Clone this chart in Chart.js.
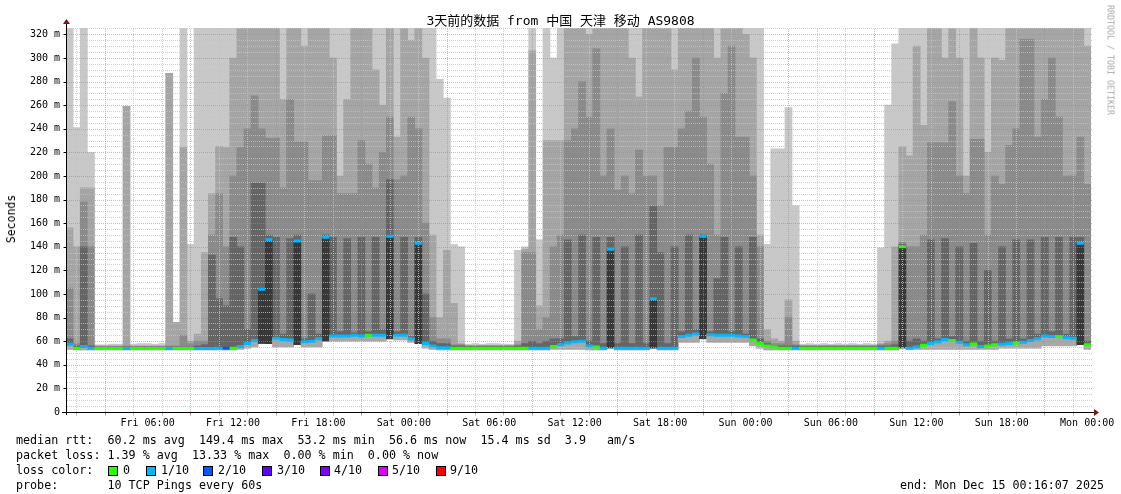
<!DOCTYPE html>
<html><head><meta charset="utf-8">
<script src="https://cdn.jsdelivr.net/npm/chart.js@4.4.1/dist/chart.umd.min.js"></script>
<style>
html,body{margin:0;padding:0;background:#fff;}
#wrap{position:relative;width:1121px;height:494px;overflow:hidden;background:#fff;}
#c{position:absolute;left:0;top:0;}
.t{position:absolute;font-family:"DejaVu Sans Mono",monospace;color:#000;white-space:pre;}
.leg{font-size:11.7px;line-height:15px;left:16px;}
.box{position:absolute;width:8px;height:8px;border:1px solid #000;}
</style></head><body>
<div id="wrap">
<canvas id="c" width="1121" height="494"></canvas>
<div class="t" id="title" style="left:0;width:1121px;text-align:center;top:13px;font-size:13px;line-height:16px;font-family:'DejaVu Sans Mono','Noto Sans CJK SC',monospace;">3天前的数据 from 中国 天津 移动 AS9808</div>
<div class="t" id="ylab" style="left:11px;top:219px;font-size:11.5px;line-height:12px;transform:translate(-50%,-50%) rotate(-90deg);">Seconds</div>
<div class="t" id="credit" style="left:1110px;top:60px;font-size:8.3px;line-height:9px;color:#a8a8a8;transform:translate(-50%,-50%) rotate(90deg);">RRDTOOL / TOBI OETIKER</div>
<div class="t leg" style="top:433px;">median rtt:  60.2 ms avg  149.4 ms max  53.2 ms min  56.6 ms now  15.4 ms sd  3.9   am/s</div>
<div class="t leg" style="top:448px;">packet loss: 1.39 % avg  13.33 % max  0.00 % min  0.00 % now</div>
<div class="t leg" style="top:463px;">loss color:</div>
<div class="t leg" style="top:478px;">probe:       10 TCP Pings every 60s</div>
<div class="t leg" style="top:478px;left:auto;right:17px;">end: Mon Dec 15 00:16:07 2025</div>
<div id="lossLegend"></div>
</div>
<script>
// ---------------- data (30-minute columns, Fri 00:16 -> Mon 00:16) ----------------
const medianRtt = [
 57.5,54,55.5,54,53.8,53.8,53.8,53.8,53.8,53.8,53.8,53.8,
 53.8,53.8,53.8,53.8,53.8,53.8,53.8,53.8,53.8,54,54,54,
 55.5,58,60.5,104,146,62.4,61.5,61,145,59.5,60,62,
 148,64.5,64.5,64.5,65,64.5,65,65,65,149,65,65,
 62,143,58,56,54.5,54.5,54,54,54,54,54,54,
 54,54,54,54,54,54,54,54,55.5,57,58.5,59.5,
 60,56,55,54,138,54,54,54,54,54,96,54,
 54,54,64,65,66,149,65.5,65,65,65,64.5,64,
 61,58,56,55,54,54,54,54,54,54,54,54,
 54,54,54,54,54,54,54,54,54,140,54,55,
 56.5,58,59.5,61.5,60.5,59,57,57.6,55.5,56,57,57.5,
 58,58.5,59,60.5,62,64.4,64,64,63,62.4,143,57
];
// loss per column: index into lossColors (0 = 0/10, 1 = 1/10, 2 = 2/10)
const lossIndex = [
 1,0,1,1,0,0,0,0,1,0,0,0,
 0,0,1,0,0,0,1,1,1,1,2,0,
 1,1,1,1,1,1,1,1,1,1,1,1,
 1,1,1,1,1,1,0,1,1,1,1,1,
 1,1,1,1,1,1,0,0,0,0,0,0,
 0,0,0,0,0,1,1,1,0,1,1,1,
 1,1,0,1,1,1,1,1,1,1,1,1,
 1,1,1,1,1,1,1,1,1,1,1,1,
 0,0,0,0,0,0,1,0,0,0,0,0,
 0,0,0,0,0,0,1,0,0,0,1,1,
 0,1,1,1,0,1,1,0,1,0,0,1,
 1,0,1,1,1,1,1,0,1,1,1,0
];
// lowest ping per column
const smokeLow = [
 53,52.5,52.5,52.5,52.5,52.5,52.5,52.5,52.5,52.5,52.5,52.5,
 52.5,52.5,52.5,52.5,52.5,52.5,52.5,52.5,52.5,52.5,52.5,52.5,
 53,54,55,58,58,55,55,55,57,55,55,55,
 60,60,60,60,60,60,60,60,60,62,61,61,
 59,58,54,53,52.5,52.5,52.5,52.5,52.5,52.5,52.5,52.5,
 52.5,52.5,52.5,52.5,52.5,52.5,52.5,52.5,53,53,53,53,
 53,52.5,52.5,52.5,54,52.5,52.5,52.5,52.5,52.5,54,52.5,
 52.5,52.5,59,59,59,62,59,59,59,59,59,59,
 56,54,52.5,52.5,52.5,52.5,52.5,52.5,52.5,52.5,52.5,52.5,
 52.5,52.5,52.5,52.5,52.5,52.5,52.5,52.5,52.5,54,53,53,
 53,53,53,53,53,53,53,53,53,53,53,54,
 54,54,54,54,54,56,56,56,56,56,57,53
];
// upper smoke levels (inner -> outer)
const smoke1 = [
 62,56,140,56,55,55,55,55,55,55,55,55,
 55,55,55,55,55,55,56,57,133,96,90,148,
 140,70,194,194,150,148,66,147,150,62,100,66,
 150,148,68,147,67,148,68,148,70,197,68,148,
 64,148,100,60,58,58,56,56,55.5,55.5,55.5,55.5,
 55.5,55.5,55.5,56,58,60,58,60,62,62,146,64,
 150,60,148,58,148,58,140,58,150,58,174,135,
 58,140,68,150,70,150,68,113,148,68,140,66,
 148,62,58,56,56,56,56,55.5,55.5,55.5,55.5,55.5,
 55.5,55.5,55.5,55.5,55.5,55.5,56,56,57,142,60,62,
 60,146,62,147,64,140,60,143,60,120,60,140,
 62,146,62,146,66,148,68,148,66,148,148,60
];
const smoke2 = [
 105,58,178,140,55.5,55.5,55.5,55.5,56,55.5,55.5,55.5,
 55.5,55.5,56,56,65,58,60,60,150,185,140,200,
 224,240,268,240,232,232,190,265,229,229,196,196,
 234,234,185,185,185,230,210,190,220,250,197,200,
 250,240,160,80,62,62,57,57,56,56,56,56,
 56,56,56,57,135,135,70,80,140,150,230,240,
 280,250,308,200,240,188,200,185,222,200,200,175,
 224,224,240,255,300,250,210,150,270,310,233,233,
 200,140,60,58,58,80,57,56,56,56,56,56,
 56,56,56,56,56,56,57,58,60,144,140,140,
 150,228,228,228,263,200,185,231,231,150,200,193,
 226,240,316,316,233,265,300,250,200,200,233,193
];
const smoke3 = [
 156,140,190,190,56,56,56,56,259,56,56,56,
 56,56,287,76,224,60,66,135,185,225,224,300,
 330,330,330,330,330,330,265,330,330,310,330,330,
 330,300,200,265,330,330,330,290,260,330,233,330,
 315,330,300,150,80,137,92,58,56.5,56.5,56.5,56.5,
 56.5,56.5,56.5,60,138,306,90,230,230,230,330,330,
 330,320,330,330,330,330,330,300,267,330,330,330,
 330,290,330,330,330,330,330,300,330,330,330,320,
 300,150,70,62,60,95,60,56.5,56.5,56.5,56.5,56.5,
 56.5,56.5,56.5,56.5,56.5,56.5,58,60,140,225,217,310,
 243,330,330,300,330,300,200,330,300,220,300,298,
 330,330,330,330,330,330,330,330,330,330,330,310
];
const smoke4 = [
 330,241,330,220,57,57,57.5,57.5,259,57.5,58,58,
 57.5,58,287,76,330,142,330,330,330,330,330,330,
 330,330,330,330,330,330,330,330,330,330,330,330,
 330,330,330,330,330,330,330,330,330,330,330,330,
 330,330,330,330,282,266,142,140,57.5,58,57.5,58,
 58,57.5,57.5,137,140,330,146,330,300,330,330,330,
 330,330,330,330,330,330,330,330,330,330,330,330,
 330,330,330,330,330,330,330,330,330,330,330,330,
 330,330,142,223,223,258,175,57.5,58,57.5,58,57.5,
 58,57.5,58,57.5,58,57.5,139,260,312,330,330,330,
 330,330,330,330,330,330,330,330,330,330,330,330,
 330,330,330,330,330,330,330,330,330,330,330,330
];
const lossColors = ['#26ff00','#00b8ff','#0059ff','#5e00ff','#7e00ff','#dd00ff','#ff0000'];
const lossLabels = ['0','1/10','2/10','3/10','4/10','5/10','9/10'];
const xTickHours = [6,12,18,24,30,36,42,48,54,60,66,72];
const xTickLabels = ['Fri 06:00','Fri 12:00','Fri 18:00','Sat 00:00','Sat 06:00','Sat 12:00','Sat 18:00','Sun 00:00','Sun 06:00','Sun 12:00','Sun 18:00','Mon 00:00'];
const yTickValues = [0,20,40,60,80,100,120,140,160,180,200,220,240,260,280,300,320];
const yTickLabels = ['0','20 m','40 m','60 m','80 m','100 m','120 m','140 m','160 m','180 m','200 m','220 m','240 m','260 m','280 m','300 m','320 m'];
const startHour = 0.2686, endHour = 72.2686, yMax = 325.4;

// ---------------- legend boxes (HTML) ----------------
const boxLeft = [108,146,203,262,320,378,436];
const labLeft = [123,161,218,277,334,392,450];
const lg = document.getElementById('lossLegend');
lossColors.forEach((c,i)=>{
  const b=document.createElement('div'); b.className='box';
  b.style.left=boxLeft[i]+'px'; b.style.top='466px'; b.style.background=c; lg.appendChild(b);
  const t=document.createElement('div'); t.className='t leg';
  t.style.left=labLeft[i]+'px'; t.style.top='463px'; t.textContent=lossLabels[i]; lg.appendChild(t);
});

// ---------------- chart ----------------
const gridPlugin = {
  id:'rrdgrid',
  afterDatasetDraw(chart,args){
    if(args.index!==1) return;
    const {ctx, chartArea:a, scales} = chart;
    const xs=scales.xt, ys=scales.y;
    ctx.save(); ctx.lineWidth=1; ctx.setLineDash([1,1]);
    const hl=(v,col)=>{const y=Math.round(ys.getPixelForValue(v))+0.5; ctx.strokeStyle=col; ctx.beginPath(); ctx.moveTo(a.left+1,y); ctx.lineTo(a.right+2,y); ctx.stroke();};
    const vl=(h,col)=>{const x=Math.round(xs.getPixelForValue(h))+0.5; ctx.strokeStyle=col; ctx.beginPath(); ctx.moveTo(x,a.bottom); ctx.lineTo(x,a.top); ctx.stroke();};
    for(let v=5; v<ys.max; v+=5){ if(v%20!==0) hl(v,'rgba(195,195,195,0.8)'); }
    for(let h=1; h<endHour; h+=2){ if((h-3)%6!==0) vl(h,'rgba(195,195,195,0.8)'); }
    for(let v=20; v<ys.max; v+=20) hl(v,'rgba(240,110,110,0.6)');
    for(let h=3; h<endHour; h+=6) vl(h,'rgba(240,110,110,0.6)');
    ctx.restore();
  }
};
const axesPlugin = {
  id:'rrdaxes',
  afterDraw(chart){
    const {ctx, chartArea:a, scales} = chart;
    const xs=scales.xt, ys=scales.y;
    ctx.save(); ctx.setLineDash([]); ctx.lineWidth=1;
    const yb=Math.round(a.bottom)+0.5, xl=Math.round(a.left)+0.5;
    for(let h=1; h<endHour; h+=2){
      const x=Math.round(xs.getPixelForValue(h))+0.5;
      ctx.strokeStyle=((h-3)%6===0)?'rgba(240,90,90,0.8)':'rgba(170,170,170,0.9)';
      ctx.beginPath(); ctx.moveTo(x,yb); ctx.lineTo(x,yb+3); ctx.stroke();
    }
    ctx.strokeStyle='#000';
    for(let v=0; v<ys.max; v+=20){
      const y=Math.round(ys.getPixelForValue(v))+0.5;
      ctx.beginPath(); ctx.moveTo(xl-3,y); ctx.lineTo(xl,y); ctx.stroke();
    }
    ctx.beginPath(); ctx.moveTo(a.left-4,yb); ctx.lineTo(a.right+5,yb); ctx.stroke();
    ctx.beginPath(); ctx.moveTo(xl,a.bottom+3); ctx.lineTo(xl,a.top-5); ctx.stroke();
    ctx.fillStyle='#821414';
    ctx.beginPath(); ctx.moveTo(a.right+3,yb-3.5); ctx.lineTo(a.right+8,yb); ctx.lineTo(a.right+3,yb+3.5); ctx.closePath(); ctx.fill();
    ctx.beginPath(); ctx.moveTo(xl-3.5,a.top-4); ctx.lineTo(xl,a.top-9); ctx.lineTo(xl+3.5,a.top-4); ctx.closePath(); ctx.fill();
    ctx.restore();
  }
};
function band(lo, hi, color){
  return {type:'bar', data: lo.map((v,i)=>[v, hi[i]]), backgroundColor: color, borderWidth:0,
    barPercentage:1, categoryPercentage:1, grouped:false, xAxisID:'x', yAxisID:'y'};
}
const halfCol = c => { const a=c.chart.chartArea; return a ? (a.right-a.left)/medianRtt.length/2 : 3.5; };
const lowBand = band(smokeLow, medianRtt, c => (medianRtt[c.dataIndex]-smokeLow[c.dataIndex] > 20) ? '#383838' : '#a8a8a8');

Chart.defaults.font.family = "'DejaVu Sans Mono', monospace";
new Chart(document.getElementById('c'), {
  type:'bar',
  data:{
    labels: medianRtt.map((_,i)=>i),
    datasets:[
      {type:'line', data: medianRtt, showLine:false, pointStyle:'line',
       pointRadius: halfCol, pointHoverRadius: halfCol, pointBorderWidth:3, pointHoverBorderWidth:3,
       pointBorderColor: c=>lossColors[lossIndex[c.dataIndex]], pointBackgroundColor: c=>lossColors[lossIndex[c.dataIndex]],
       xAxisID:'x', yAxisID:'y'},
      lowBand,
      band(medianRtt, smoke1, '#656565'),
      band(smoke1, smoke2, '#8a8a8a'),
      band(smoke2, smoke3, '#a5a5a5'),
      band(smoke3, smoke4, '#c8c8c8')
    ]
  },
  options:{
    responsive:false, animation:false, events:[], devicePixelRatio:1,
    layout:{padding:{left:0,right:30,top:28,bottom:0}},
    plugins:{legend:{display:false}, tooltip:{enabled:false}, title:{display:false}},
    scales:{
      x:{type:'category', display:false, offset:true},
      xt:{type:'linear', position:'bottom', min:startHour, max:endHour, offset:false,
          grid:{display:false, drawTicks:false, offset:false}, border:{display:false},
          afterBuildTicks: s=>{ s.ticks = xTickHours.map(v=>({value:v})); },
          afterFit: s=>{ s.height = 82; },
          ticks:{autoSkip:false, maxRotation:0, padding:5, color:'#000', font:{size:10},
                 callback:(v,i)=>xTickLabels[i]}},
      y:{type:'linear', min:0, max:yMax, position:'left',
         grid:{display:false, drawTicks:false}, border:{display:false},
         afterBuildTicks: s=>{ s.ticks = yTickValues.map(v=>({value:v})); },
         afterFit: s=>{ s.width = 66; },
         ticks:{autoSkip:false, padding:6, color:'#000', font:{size:10},
                callback:(v,i)=>yTickLabels[i]}}
    }
  },
  plugins:[gridPlugin, axesPlugin]
});
</script>
</body></html>
